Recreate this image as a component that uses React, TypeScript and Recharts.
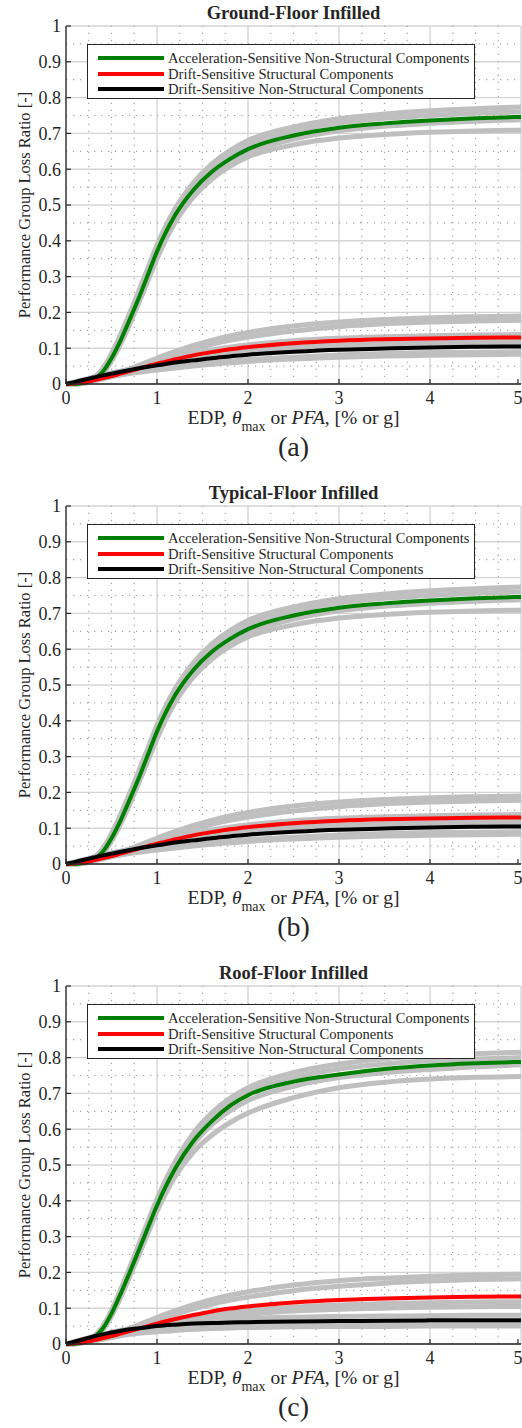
import React from 'react';
import { LineChart, Line, XAxis, YAxis, CartesianGrid, ReferenceLine } from 'recharts';

// EDP sample points shared by every curve
const X = [0, 0.1, 0.2, 0.3, 0.4, 0.5, 0.6, 0.7, 0.8, 0.9, 1.0, 1.2, 1.4, 1.6, 1.8, 2.0, 2.5, 3.0, 3.5, 4.0, 4.5, 5.0];

const X_TICKS = [0, 1, 2, 3, 4, 5];
const Y_TICKS = [0, 0.1, 0.2, 0.3, 0.4, 0.5, 0.6, 0.7, 0.8, 0.9, 1];

// ground floor (also used for the typical floor, curves look the same)
const GF_ACC = [0, 0, 0.003, 0.012, 0.033, 0.072, 0.122, 0.18, 0.24, 0.305, 0.37, 0.472, 0.542, 0.592, 0.628, 0.656, 0.694, 0.716, 0.728, 0.736, 0.742, 0.746];
const GF_DS = [0, 0.002, 0.005, 0.01, 0.016, 0.022, 0.029, 0.036, 0.043, 0.05, 0.057, 0.069, 0.08, 0.089, 0.097, 0.103, 0.114, 0.121, 0.125, 0.127, 0.129, 0.13];
const GF_DNS = [0, 0.006, 0.012, 0.018, 0.024, 0.029, 0.034, 0.039, 0.044, 0.048, 0.052, 0.06, 0.066, 0.072, 0.077, 0.082, 0.09, 0.096, 0.099, 0.102, 0.104, 0.105];

const GF_ACC_G1 = [0, 0, 0.004, 0.016, 0.042, 0.085, 0.138, 0.198, 0.26, 0.324, 0.388, 0.49, 0.562, 0.614, 0.652, 0.68, 0.718, 0.741, 0.754, 0.763, 0.769, 0.774];
const GF_ACC_G2 = [0, 0, 0.003, 0.014, 0.038, 0.079, 0.13, 0.19, 0.251, 0.315, 0.379, 0.481, 0.553, 0.604, 0.641, 0.669, 0.706, 0.729, 0.742, 0.75, 0.756, 0.76];
const GF_ACC_G3 = [0, 0, 0.002, 0.011, 0.03, 0.068, 0.116, 0.173, 0.233, 0.297, 0.361, 0.462, 0.533, 0.583, 0.619, 0.646, 0.684, 0.707, 0.72, 0.728, 0.734, 0.738];
const GF_ACC_G4 = [0, 0, 0.002, 0.01, 0.028, 0.064, 0.111, 0.167, 0.226, 0.288, 0.35, 0.452, 0.522, 0.572, 0.608, 0.634, 0.668, 0.687, 0.697, 0.703, 0.707, 0.709];

const GF_D1 = [0, 0.002, 0.006, 0.011, 0.017, 0.024, 0.033, 0.042, 0.052, 0.062, 0.072, 0.091, 0.108, 0.122, 0.134, 0.144, 0.162, 0.173, 0.18, 0.185, 0.188, 0.19];
const GF_D2 = [0, 0.002, 0.005, 0.01, 0.015, 0.022, 0.03, 0.039, 0.048, 0.057, 0.066, 0.083, 0.098, 0.111, 0.122, 0.131, 0.148, 0.16, 0.168, 0.173, 0.176, 0.178];
const GF_D3 = [0, 0.002, 0.005, 0.011, 0.017, 0.024, 0.031, 0.038, 0.046, 0.053, 0.06, 0.073, 0.085, 0.095, 0.103, 0.109, 0.121, 0.128, 0.132, 0.135, 0.137, 0.138];
const GF_D4 = [0, 0.002, 0.005, 0.009, 0.014, 0.02, 0.026, 0.032, 0.039, 0.045, 0.051, 0.062, 0.072, 0.08, 0.087, 0.093, 0.103, 0.109, 0.113, 0.115, 0.117, 0.118];
const GF_D5 = [0, 0.006, 0.012, 0.019, 0.025, 0.031, 0.036, 0.041, 0.046, 0.051, 0.055, 0.064, 0.071, 0.077, 0.082, 0.087, 0.096, 0.102, 0.106, 0.109, 0.111, 0.112];
const GF_D6 = [0, 0.005, 0.01, 0.015, 0.02, 0.024, 0.028, 0.032, 0.036, 0.04, 0.043, 0.049, 0.055, 0.06, 0.064, 0.068, 0.075, 0.081, 0.085, 0.088, 0.089, 0.09];
const GF_D7 = [0, 0.004, 0.009, 0.014, 0.018, 0.022, 0.026, 0.029, 0.033, 0.036, 0.039, 0.045, 0.05, 0.055, 0.059, 0.063, 0.07, 0.075, 0.078, 0.08, 0.082, 0.083];

// roof floor
const RF_ACC = [0, 0.001, 0.005, 0.017, 0.042, 0.085, 0.14, 0.2, 0.262, 0.325, 0.387, 0.49, 0.567, 0.622, 0.665, 0.695, 0.733, 0.753, 0.768, 0.778, 0.784, 0.788];
const RF_DS = [0, 0.002, 0.005, 0.01, 0.016, 0.022, 0.029, 0.036, 0.043, 0.05, 0.057, 0.07, 0.081, 0.091, 0.099, 0.105, 0.116, 0.123, 0.127, 0.13, 0.132, 0.133];
const RF_DNS = [0, 0.007, 0.014, 0.021, 0.027, 0.032, 0.037, 0.041, 0.044, 0.047, 0.05, 0.054, 0.057, 0.059, 0.06, 0.061, 0.063, 0.064, 0.065, 0.066, 0.066, 0.066];

const RF_ACC_G1 = [0, 0.001, 0.006, 0.02, 0.048, 0.094, 0.152, 0.214, 0.278, 0.342, 0.405, 0.51, 0.589, 0.645, 0.686, 0.716, 0.758, 0.782, 0.797, 0.806, 0.811, 0.815];
const RF_ACC_G2 = [0, 0.001, 0.005, 0.018, 0.045, 0.089, 0.146, 0.207, 0.27, 0.333, 0.396, 0.5, 0.578, 0.633, 0.674, 0.704, 0.744, 0.768, 0.782, 0.791, 0.796, 0.8];
const RF_ACC_G3 = [0, 0.001, 0.004, 0.016, 0.04, 0.082, 0.136, 0.195, 0.256, 0.318, 0.38, 0.482, 0.558, 0.612, 0.651, 0.68, 0.72, 0.744, 0.758, 0.767, 0.774, 0.78];
const RF_ACC_G4 = [0, 0.001, 0.004, 0.015, 0.038, 0.078, 0.13, 0.188, 0.248, 0.309, 0.37, 0.468, 0.536, 0.583, 0.618, 0.645, 0.688, 0.716, 0.731, 0.74, 0.745, 0.747];

const RF_D1 = [0, 0.002, 0.006, 0.011, 0.018, 0.025, 0.034, 0.044, 0.054, 0.064, 0.074, 0.093, 0.11, 0.124, 0.136, 0.146, 0.165, 0.177, 0.184, 0.189, 0.193, 0.195];
const RF_D2 = [0, 0.002, 0.005, 0.01, 0.015, 0.022, 0.03, 0.039, 0.048, 0.057, 0.066, 0.083, 0.098, 0.111, 0.122, 0.131, 0.149, 0.161, 0.17, 0.176, 0.18, 0.182];
const RF_D3 = [0, 0.002, 0.005, 0.009, 0.014, 0.02, 0.026, 0.032, 0.039, 0.045, 0.051, 0.062, 0.072, 0.08, 0.087, 0.093, 0.103, 0.109, 0.113, 0.115, 0.117, 0.118];
const RF_D4 = [0, 0.002, 0.005, 0.009, 0.013, 0.018, 0.023, 0.029, 0.035, 0.04, 0.046, 0.056, 0.065, 0.072, 0.078, 0.083, 0.092, 0.097, 0.1, 0.103, 0.104, 0.105];
const RF_D5 = [0, 0.007, 0.014, 0.021, 0.027, 0.033, 0.038, 0.043, 0.047, 0.051, 0.054, 0.06, 0.064, 0.067, 0.07, 0.072, 0.075, 0.077, 0.078, 0.079, 0.08, 0.08];
const RF_D6 = [0, 0.005, 0.01, 0.015, 0.02, 0.024, 0.028, 0.031, 0.034, 0.037, 0.039, 0.043, 0.046, 0.048, 0.05, 0.051, 0.053, 0.054, 0.055, 0.055, 0.055, 0.055];
const RF_D7 = [0, 0.004, 0.009, 0.013, 0.017, 0.021, 0.024, 0.027, 0.03, 0.032, 0.034, 0.038, 0.041, 0.043, 0.045, 0.046, 0.048, 0.049, 0.049, 0.05, 0.05, 0.05];

const LEGEND = [
  { name: 'Acceleration-Sensitive Non-Structural Components', color: '#008000' },
  { name: 'Drift-Sensitive Structural Components', color: '#ff0000' },
  { name: 'Drift-Sensitive Non-Structural Components', color: '#000000' },
];

const FONT = "'Liberation Serif', 'Times New Roman', Times, serif";
const AXIS = '#262626';
const GRAY = '#bfbfbf';

// minor grid positions (0.25 in x, 0.05 in y), skipping the major ones
const MINOR_X = Array.from({ length: 21 }, (_, i) => i * 0.25).filter((v) => v % 1 !== 0);
const MINOR_Y = Array.from({ length: 21 }, (_, i) => +(i * 0.05).toFixed(2)).filter((_, i) => i % 2 === 1);

const PANELS = [
  { title: 'Ground-Floor Infilled', caption: '(a)', acc: GF_ACC, ds: GF_DS, dns: GF_DNS,
    accGrays: [GF_ACC_G1, GF_ACC_G2, GF_ACC_G3, GF_ACC_G4], driftGrays: [GF_D1, GF_D2, GF_D3, GF_D4, GF_D5, GF_D6, GF_D7] },
  { title: 'Typical-Floor Infilled', caption: '(b)', acc: GF_ACC, ds: GF_DS, dns: GF_DNS,
    accGrays: [GF_ACC_G1, GF_ACC_G2, GF_ACC_G3, GF_ACC_G4], driftGrays: [GF_D1, GF_D2, GF_D3, GF_D4, GF_D5, GF_D6, GF_D7] },
  { title: 'Roof-Floor Infilled', caption: '(c)', acc: RF_ACC, ds: RF_DS, dns: RF_DNS,
    accGrays: [RF_ACC_G1, RF_ACC_G2, RF_ACC_G3, RF_ACC_G4], driftGrays: [RF_D1, RF_D2, RF_D3, RF_D4, RF_D5, RF_D6, RF_D7] },
];

const TICK_LEN = 5;
const MINOR_STYLE = { stroke: '#a3a3a3', strokeWidth: 1.2, strokeDasharray: '1.2 5.8' };

const BottomTick = (props: any) => {
  const { x, y, payload } = props;
  const axisY = y - 7;
  return (
    <g>
      <line x1={x} x2={x} y1={axisY} y2={axisY - TICK_LEN} stroke={AXIS} strokeWidth={1.2} />
      <text x={x} y={y} dy="0.71em" textAnchor="middle" fontSize={18} fontFamily={FONT} fill={AXIS}>
        {payload.value}
      </text>
    </g>
  );
};

const LeftTick = (props: any) => {
  const { x, y, payload } = props;
  const axisX = x + 5;
  return (
    <g>
      <line x1={axisX} x2={axisX + TICK_LEN} y1={y} y2={y} stroke={AXIS} strokeWidth={1.2} />
      <text x={x} y={y} dy="0.35em" textAnchor="end" fontSize={18} fontFamily={FONT} fill={AXIS}>
        {payload.value}
      </text>
    </g>
  );
};

const TopTick = (props: any) => (
  <line x1={props.x} x2={props.x} y1={props.y} y2={props.y + TICK_LEN} stroke={AXIS} strokeWidth={1.2} />
);

const RightTick = (props: any) => (
  <line x1={props.x} x2={props.x - TICK_LEN} y1={props.y} y2={props.y} stroke={AXIS} strokeWidth={1.2} />
);

function Panel({ p }: { p: any }) {
  const data = X.map((x, i) => {
    const row: any = { x, acc: p.acc[i], ds: p.ds[i], dns: p.dns[i] };
    p.accGrays.forEach((g: number[], k: number) => (row['ga' + k] = g[i]));
    p.driftGrays.forEach((g: number[], k: number) => (row['gd' + k] = g[i]));
    return row;
  });

  return (
    <div style={{ position: 'relative', width: 522, height: 480, fontFamily: FONT, color: AXIS }}>
      <LineChart width={522} height={480} data={data} margin={{ top: 26, right: 1, bottom: 56, left: 6 }}>
        {/* major solid grid */}
        <CartesianGrid horizontalValues={Y_TICKS} verticalValues={X_TICKS} stroke="#d4d4d4" strokeWidth={1.4} />
        {/* minor dotted grid */}
        {MINOR_Y.map((v) => (
          <ReferenceLine key={'my' + v} y={v} {...MINOR_STYLE} />
        ))}
        {MINOR_X.map((v) => (
          <ReferenceLine key={'mx' + v} x={v} {...MINOR_STYLE} />
        ))}
        <XAxis dataKey="x" type="number" domain={[0, 5]} ticks={X_TICKS} height={40}
          tickSize={0} tickMargin={7} tick={<BottomTick />} axisLine={{ stroke: AXIS, strokeWidth: 1.3 }} />
        <XAxis xAxisId="top" orientation="top" dataKey="x" type="number" domain={[0, 5]} ticks={X_TICKS} height={0}
          tickSize={0} tickMargin={0} tick={<TopTick />} axisLine={{ stroke: AXIS, strokeWidth: 1.3 }} />
        <YAxis type="number" domain={[0, 1]} ticks={Y_TICKS} width={60}
          tickSize={0} tickMargin={5} tick={<LeftTick />} axisLine={{ stroke: AXIS, strokeWidth: 1.3 }} />
        <YAxis yAxisId="right" orientation="right" type="number" domain={[0, 1]} ticks={Y_TICKS} width={0}
          tickSize={0} tickMargin={0} tick={<RightTick />} axisLine={{ stroke: AXIS, strokeWidth: 1.3 }} />
        {p.accGrays.map((_: any, k: number) => (
          <Line key={'ga' + k} dataKey={'ga' + k} type="monotone" stroke={GRAY} strokeWidth={5} dot={false} isAnimationActive={false} />
        ))}
        {p.driftGrays.map((_: any, k: number) => (
          <Line key={'gd' + k} dataKey={'gd' + k} type="monotone" stroke={GRAY} strokeWidth={5} dot={false} isAnimationActive={false} />
        ))}
        <Line dataKey="acc" type="monotone" stroke="#008000" strokeWidth={4} dot={false} isAnimationActive={false} />
        <Line dataKey="ds" type="monotone" stroke="#ff0000" strokeWidth={4} dot={false} isAnimationActive={false} />
        <Line dataKey="dns" type="monotone" stroke="#000000" strokeWidth={4} dot={false} isAnimationActive={false} />
      </LineChart>

      <div style={{ position: 'absolute', left: 66, width: 455, top: 3, textAlign: 'center', fontWeight: 'bold', fontSize: 18.5, lineHeight: '20px', whiteSpace: 'nowrap' }}>
        {p.title}
      </div>

      <div style={{ position: 'absolute', left: 87, top: 44, width: 386, height: 53, border: `1.3px solid ${AXIS}`, background: '#fff' }}>
        {LEGEND.map((l, i) => (
          <div key={i} style={{ position: 'absolute', left: 0, top: 5 + i * 15.5, height: 16, width: 386 }}>
            <div style={{ position: 'absolute', left: 10, top: 6, width: 66, height: 4, background: l.color }} />
            <div style={{ position: 'absolute', left: 80, top: 0, fontSize: 14.6, lineHeight: '16px', whiteSpace: 'nowrap' }}>{l.name}</div>
          </div>
        ))}
      </div>

      <div style={{ position: 'absolute', left: 25 - 150, top: 205 - 10, width: 300, height: 20, textAlign: 'center',
        transform: 'rotate(-90deg)', fontSize: 16.5, lineHeight: '20px', whiteSpace: 'nowrap' }}>
        Performance Group Loss Ratio [-]
      </div>

      <div style={{ position: 'absolute', left: 66, width: 455, top: 408, textAlign: 'center', fontSize: 19.5, lineHeight: '20px', whiteSpace: 'nowrap' }}>
        EDP, <i>θ</i><sub style={{ fontSize: 14, verticalAlign: '-7px' }}>max</sub> or <i>PFA</i>, [% or g]
      </div>

      <div style={{ position: 'absolute', left: 66, width: 455, top: 431, textAlign: 'center', fontSize: 28, lineHeight: '32px' }}>
        {p.caption}
      </div>
    </div>
  );
}

export default function App() {
  return (
    <div style={{ position: 'absolute', left: 0, top: 0, width: 522, height: 1428, background: '#fff' }}>
      {PANELS.map((p, i) => (
        <Panel key={i} p={p} />
      ))}
    </div>
  );
}
